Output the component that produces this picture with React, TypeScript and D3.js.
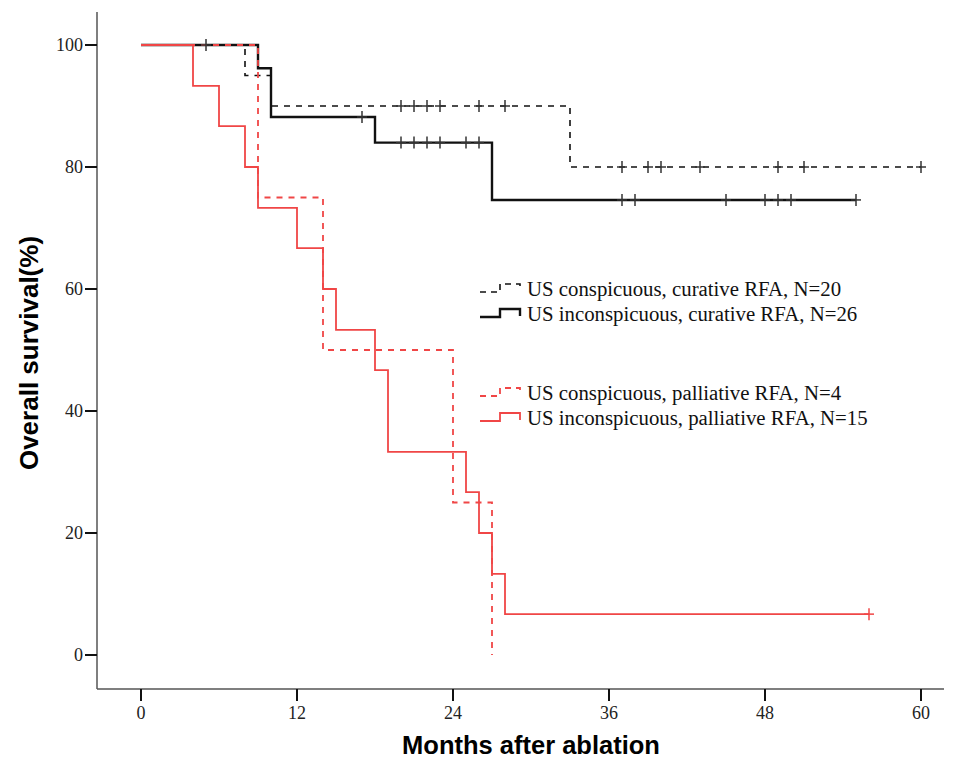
import React from "react";
import * as d3 from "d3";

// ---- Data (months, survival %) ----
const xTicks = [0, 12, 24, 36, 48, 60];
const yTicks = [0, 20, 40, 60, 80, 100];

// US conspicuous, curative RFA, N=20 (black dashed)
const consCurTimes = [0, 8, 10, 33, 60];
const consCurSurv = [100, 95, 90, 80, 80];
const consCurCensor = [5, 20, 21, 22, 23, 26, 28, 37, 39, 40, 43, 49, 51, 60];

// US inconspicuous, curative RFA, N=26 (black solid)
const inconsCurTimes = [0, 9, 10, 18, 27, 55];
const inconsCurSurv = [100, 96.2, 88.2, 84, 74.6, 74.6];
const inconsCurCensor = [17, 20, 21, 22, 23, 25, 26, 37, 38, 45, 48, 49, 50, 55];

// US conspicuous, palliative RFA, N=4 (red dashed)
const consPalTimes = [0, 9, 14, 24, 27];
const consPalSurv = [100, 75, 50, 25, 0];
const consPalCensor: number[] = [];

// US inconspicuous, palliative RFA, N=15 (red solid)
const inconsPalTimes = [0, 4, 6, 8, 9, 12, 14, 15, 18, 19, 25, 26, 27, 28, 56];
const inconsPalSurv = [100, 93.3, 86.7, 80, 73.3, 66.7, 60, 53.3, 46.7, 33.3, 26.7, 20, 13.3, 6.7, 6.7];
const inconsPalCensor = [56];

const legendLabels = [
  "US conspicuous, curative RFA, N=20",
  "US inconspicuous, curative RFA, N=26",
  "US conspicuous, palliative RFA, N=4",
  "US inconspicuous, palliative RFA, N=15",
];

const RED = "#f04646";
const BLACK = "#111";

type Curve = {
  times: number[];
  surv: number[];
  censor: number[];
  color: string;
  width: number;
  dash: string | null;
};

const curves: Curve[] = [
  { times: inconsCurTimes, surv: inconsCurSurv, censor: inconsCurCensor, color: BLACK, width: 2.4, dash: null },
  { times: consCurTimes, surv: consCurSurv, censor: consCurCensor, color: BLACK, width: 1.6, dash: "6,6" },
  { times: inconsPalTimes, surv: inconsPalSurv, censor: inconsPalCensor, color: RED, width: 1.8, dash: null },
  { times: consPalTimes, surv: consPalSurv, censor: consPalCensor, color: RED, width: 1.8, dash: "6,6" },
];

function survAt(c: Curve, t: number) {
  let s = c.surv[0];
  for (let i = 0; i < c.times.length; i++) {
    if (c.times[i] <= t) s = c.surv[i];
  }
  return s;
}

export default function App() {
  const W = 954;
  const H = 761;
  const x = d3.scaleLinear().domain([0, 60]).range([141, 921]);
  const y = d3.scaleLinear().domain([0, 100]).range([655, 45]);
  const axisX = 97;
  const axisY = 689;

  const line = d3
    .line<[number, number]>()
    .x((d) => x(d[0]))
    .y((d) => y(d[1]))
    .curve(d3.curveStepAfter);

  const legendX = 480;
  const legendRows = [288, 313, 392, 417];
  const legendStyles = [curves[1], curves[0], curves[3], curves[2]];

  return (
    <svg
      width={W}
      height={H}
      style={{ position: "absolute", left: 0, top: 0, background: "#fff" }}
    >
      <rect width={W} height={H} fill="#fff" />
      {/* axes */}
      <line x1={axisX} y1={12} x2={axisX} y2={axisY} stroke="#555" strokeWidth={1.5} />
      <line x1={axisX} y1={axisY} x2={944} y2={axisY} stroke="#555" strokeWidth={1.5} />
      {yTicks.map((t) => (
        <g key={"y" + t}>
          <line x1={axisX - 12} x2={axisX} y1={y(t)} y2={y(t)} stroke="#111" strokeWidth={2} />
          <text
            x={axisX - 14}
            y={y(t)}
            textAnchor="end"
            dominantBaseline="central"
            fontFamily="Liberation Serif"
            fontSize={18}
            fill="#222"
          >
            {t}
          </text>
        </g>
      ))}
      {xTicks.map((t) => (
        <g key={"x" + t}>
          <line x1={x(t)} x2={x(t)} y1={axisY} y2={axisY + 12} stroke="#111" strokeWidth={2} />
          <text
            x={x(t)}
            y={axisY + 30}
            textAnchor="middle"
            fontFamily="Liberation Serif"
            fontSize={18}
            fill="#222"
          >
            {t}
          </text>
        </g>
      ))}
      <text
        x={531}
        y={754}
        textAnchor="middle"
        fontFamily="Liberation Sans"
        fontWeight="bold"
        fontSize={25.5}
        fill="#000"
      >
        Months after ablation
      </text>
      <text
        transform={`translate(38,353) rotate(-90)`}
        textAnchor="middle"
        fontFamily="Liberation Sans"
        fontWeight="bold"
        fontSize={26}
        fill="#000"
      >
        Overall survival(%)
      </text>

      {/* curves */}
      {curves.map((c, i) => {
        const pts: [number, number][] = c.times.map((t, j) => [t, c.surv[j]]);
        return (
          <path
            key={"c" + i}
            d={line(pts) || ""}
            fill="none"
            stroke={c.color}
            strokeWidth={c.width}
            strokeDasharray={c.dash || undefined}
          />
        );
      })}
      {/* censor marks */}
      {curves.map((c, i) =>
        c.censor.map((t, j) => {
          const cx = x(t);
          const cy = y(survAt(c, t));
          const col = c.color === BLACK ? "#333" : c.color;
          return (
            <g key={"m" + i + "-" + j} stroke={col} strokeWidth={1.5}>
              <line x1={cx} x2={cx} y1={cy - 6} y2={cy + 6} />
              <line x1={cx - 5} x2={cx + 5} y1={cy} y2={cy} />
            </g>
          );
        })
      )}

      {/* legend */}
      {legendLabels.map((lab, i) => {
        const c = legendStyles[i];
        const cy = legendRows[i];
        const yb = cy + 4;
        const yt = cy - 4;
        const d = `M${legendX},${yb} H${legendX + 20} V${yt} H${legendX + 40} V${yt + 7}`;
        return (
          <g key={"l" + i}>
            <path
              d={d}
              fill="none"
              stroke={c.color}
              strokeWidth={c.width}
              strokeDasharray={c.dash ? "6,5" : undefined}
            />
            <text
              x={legendX + 47}
              y={cy}
              dominantBaseline="central"
              fontFamily="Liberation Serif"
              fontSize={20.8}
              fill="#111"
            >
              {lab}
            </text>
          </g>
        );
      })}
    </svg>
  );
}
